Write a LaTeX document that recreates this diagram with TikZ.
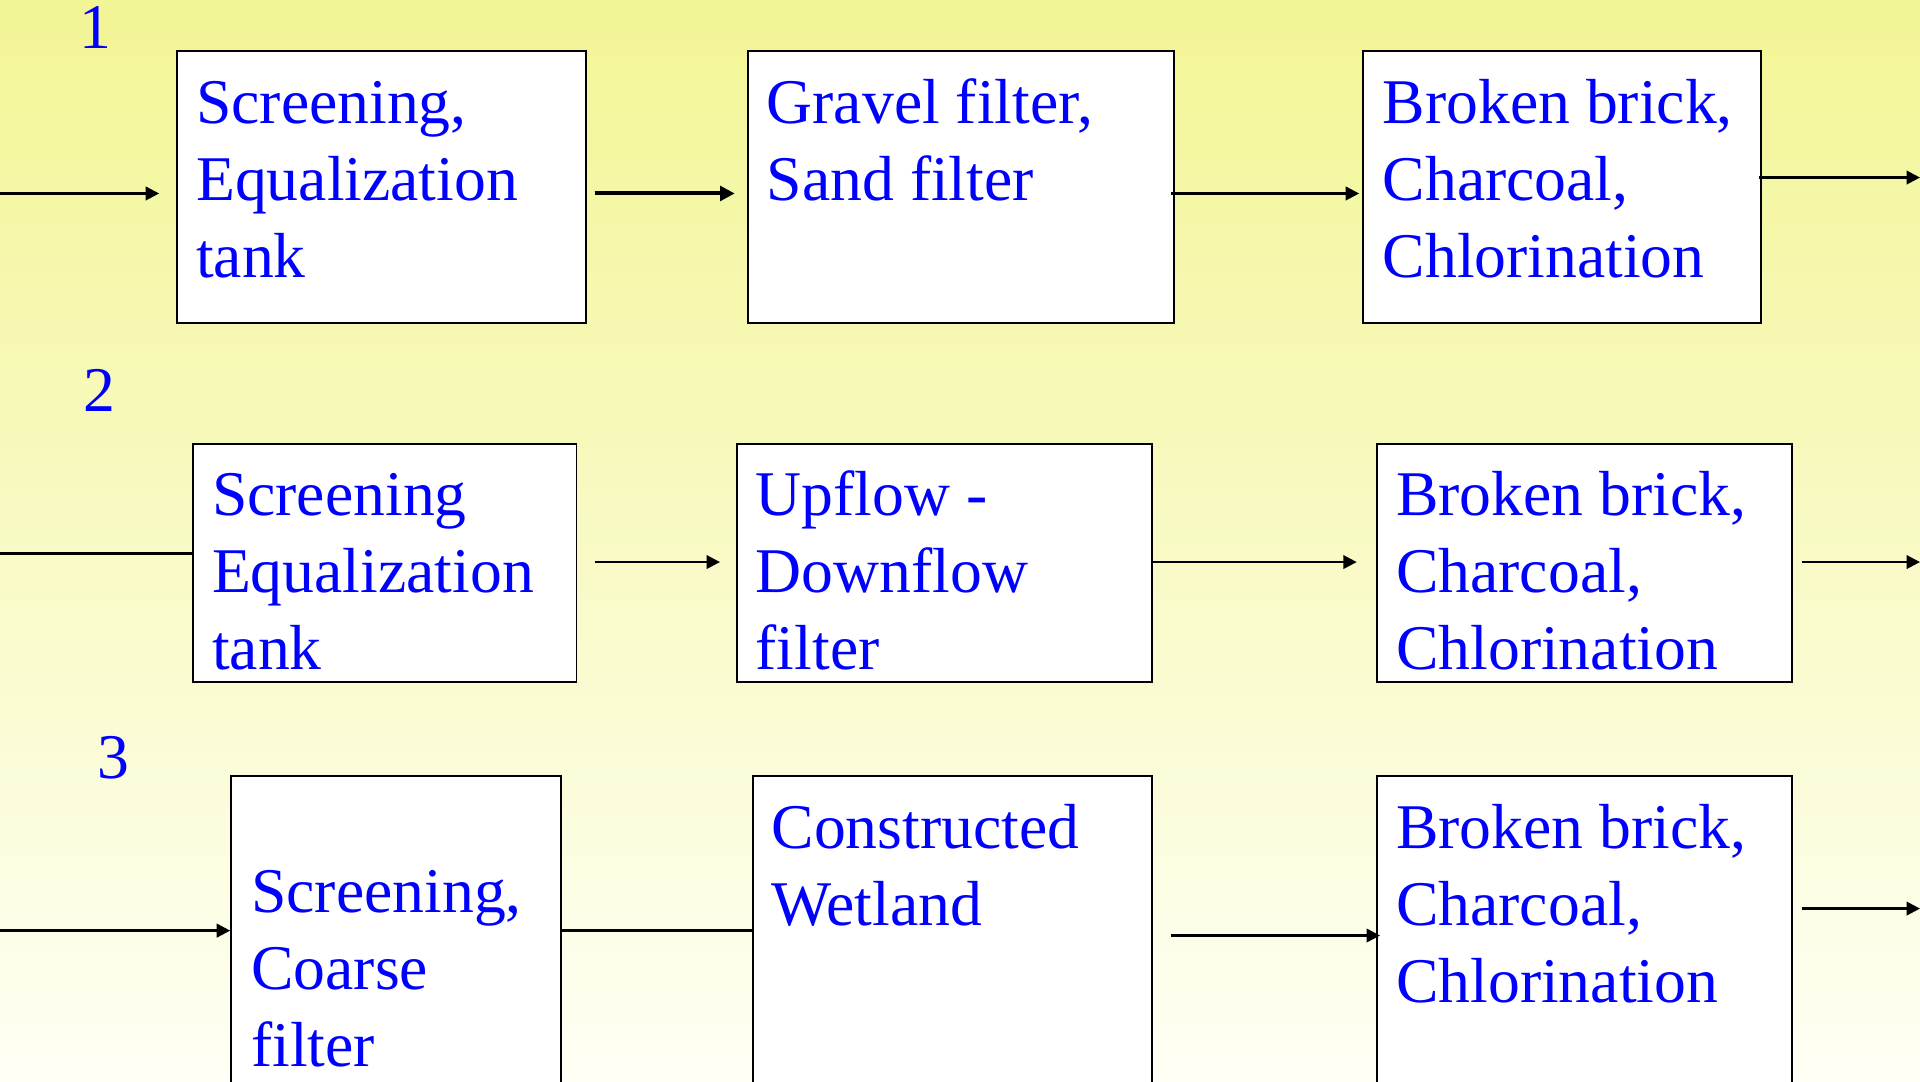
\documentclass[tikz,border=0pt]{standalone}
\usepackage{fontspec}
\setmainfont{Liberation Serif}
\usetikzlibrary{arrows.meta}
\definecolor{bgtop}{RGB}{242,245,148}
\definecolor{bgmid}{RGB}{248,249,200}
\definecolor{bgbot}{RGB}{255,255,245}
\definecolor{txtblue}{RGB}{0,0,255}
\tikzset{
  stage/.style={draw=black, line width=1.6pt, fill=white, anchor=north west, inner sep=0pt},
  txt/.style={anchor=base west, inner sep=0pt, text=txtblue, font=\fontsize{52}{63}\selectfont},
  flow/.style={line width=2pt, -{Triangle[length=11pt,width=11pt]}},
  plainline/.style={line width=2pt},
}
\begin{document}
\begin{tikzpicture}[x=1pt,y=-1pt]
\useasboundingbox (0,0) rectangle (1568,883);
\begin{scope}
\clip (0,0) rectangle (1568,883);
\shade[top color=bgtop, middle color=bgmid, bottom color=bgbot] (0,0) rectangle (1568,883);

% row labels
\node[txt, anchor=base] (n1) at (78,40) {1};
\node[txt, anchor=base] (n2) at (81,336) {2};
\node[txt, anchor=base] (n3) at (93,636) {3};

% row 1
\node[stage, minimum width=334pt, minimum height=222pt] (a1) at (144,41) {};
\node[stage, minimum width=348pt, minimum height=222pt] (b1) at (610,41) {};
\node[stage, minimum width=325pt, minimum height=222pt] (c1) at (1112,41) {};
\node[txt] (ta1) at (160,101) {\parbox[t]{400pt}{Screening,\\Equalization\\tank}};
\node[txt] (tb1) at (626,101) {\parbox[t]{400pt}{Gravel filter,\\Sand filter}};
\node[txt] (tc1) at (1129,101) {\parbox[t]{400pt}{Broken brick,\\Charcoal,\\Chlorination}};

% row 2
\node[stage, minimum width=313pt, minimum height=194pt] (a2) at (157,362) {};
\node[stage, minimum width=339pt, minimum height=194pt] (b2) at (601,362) {};
\node[stage, minimum width=339pt, minimum height=194pt] (c2) at (1124,362) {};
\node[txt] (ta2) at (173,421) {\parbox[t]{400pt}{Screening\\Equalization\\tank}};
\node[txt] (tb2) at (617,421) {\parbox[t]{400pt}{Upflow -\\Downflow\\filter}};
\node[txt] (tc2) at (1140,421) {\parbox[t]{400pt}{Broken brick,\\Charcoal,\\Chlorination}};

% row 3
\node[stage, minimum width=269pt, minimum height=260pt] (a3) at (188,633) {};
\node[stage, minimum width=326pt, minimum height=260pt] (b3) at (614,633) {};
\node[stage, minimum width=339pt, minimum height=260pt] (c3) at (1124,633) {};
\node[txt] (ta3) at (205,745) {\parbox[t]{400pt}{Screening,\\Coarse\\filter}};
\node[txt] (tb3) at (630,693) {\parbox[t]{400pt}{Constructed\\Wetland}};
\node[txt] (tc3) at (1140,693) {\parbox[t]{400pt}{Broken brick,\\Charcoal,\\Chlorination}};

% connectors row 1
\coordinate (in1) at (0,158);
\coordinate (out1) at (1568,145);
\draw[flow, shorten >=14pt] (in1) -- (in1 -| a1.west);
\draw[line width=3.3pt, -{Triangle[length=12pt,width=12pt]}, shorten <=6pt, shorten >=10pt] (a1.east |- in1) -- (b1.west |- in1);
\draw[flow, shorten <=-3pt, shorten >=2pt] (b1.east |- in1) -- (c1.west |- in1);
\draw[flow, shorten <=-2pt] (c1.east |- out1) -- (out1);

% connectors row 2
\coordinate (in2) at (0,452);
\coordinate (mid2) at (0,459);
\coordinate (out2) at (1568,459);
\draw[plainline] (in2) -- (in2 -| a2.west);
\draw[flow, shorten <=14pt, shorten >=13pt] (a2.east |- mid2) -- (b2.west |- mid2);
\draw[flow, shorten >=16pt] (b2.east |- mid2) -- (c2.west |- mid2);
\draw[flow, shorten <=7pt] (c2.east |- out2) -- (out2);

% connectors row 3
\coordinate (in3) at (0,760);
\coordinate (mid3) at (0,764);
\coordinate (out3) at (1568,742);
\draw[flow] (in3) -- (in3 -| a3.west);
\draw[plainline] (a3.east |- in3) -- (b3.west |- in3);
\draw[flow, shorten <=15pt, shorten >=-3pt] (b3.east |- mid3) -- (c3.west |- mid3);
\draw[flow, shorten <=7pt] (c3.east |- out3) -- (out3);
\end{scope}
\end{tikzpicture}
\end{document}
